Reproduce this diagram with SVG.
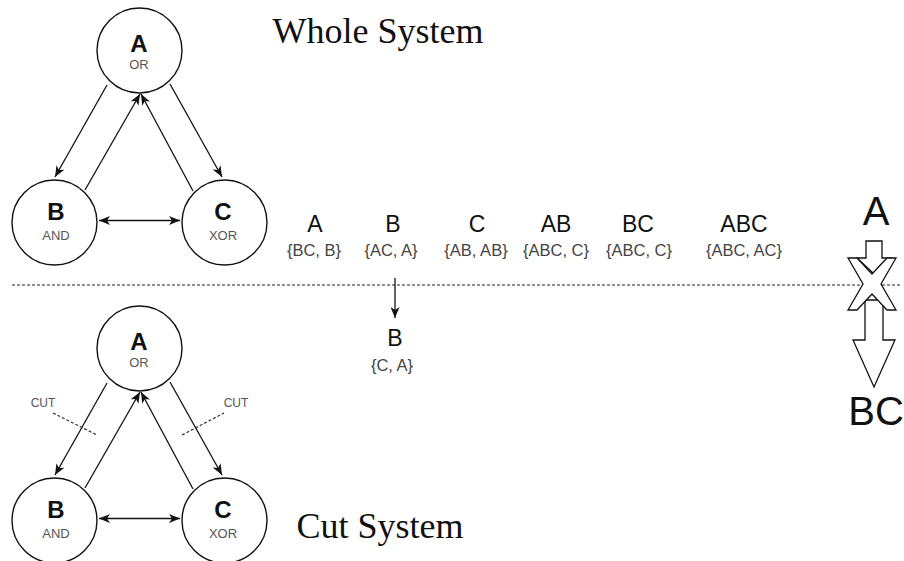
<svg xmlns="http://www.w3.org/2000/svg" width="904" height="561" viewBox="0 0 904 561">
  <style>
    .node { fill: #ffffff; stroke: #111111; stroke-width: 1.4; }
    .name { font-family: "Liberation Sans", Arial, sans-serif; font-weight: bold; font-size: 24px; fill: #111111; text-anchor: middle; }
    .gate { font-family: "Liberation Sans", Arial, sans-serif; font-size: 13px; fill: #555555; text-anchor: middle; }
    .edge { fill: none; stroke: #111111; stroke-width: 1.3; }
    .title { font-family: "Liberation Serif", "Times New Roman", serif; font-size: 36px; fill: #111111; text-anchor: middle; }
    .mech { font-family: "Liberation Sans", Arial, sans-serif; font-size: 23px; fill: #111111; text-anchor: middle; }
    .purview { font-family: "Liberation Sans", Arial, sans-serif; font-size: 16.5px; fill: #444444; text-anchor: middle; }
    .cutlbl { font-family: "Liberation Sans", Arial, sans-serif; font-size: 12px; fill: #555555; text-anchor: middle; }
    .cutline { fill: none; stroke: #333333; stroke-width: 1.2; stroke-dasharray: 3 2; }
    .divider { fill: none; stroke: #222222; stroke-width: 1.2; stroke-dasharray: 3 2; }
    .block { fill: #ffffff; stroke: #111111; stroke-width: 1.3; stroke-linejoin: miter; }
    .big { font-family: "Liberation Sans", Arial, sans-serif; font-size: 40px; fill: #111111; text-anchor: middle; }
  </style>
  <defs>
    <marker id="arrow" markerUnits="userSpaceOnUse" markerWidth="11" markerHeight="9" refX="11" refY="4.5" orient="auto-start-reverse">
      <path d="M0,0 L11,4.5 L0,9 L3,4.5 Z" fill="#111111"/>
    </marker>
  </defs>

  <rect width="904" height="561" fill="#ffffff"/>

  <!-- titles -->
  <text class="title" x="378" y="43">Whole System</text>
  <text class="title" x="380" y="538">Cut System</text>

  <!-- divider between the two systems -->
  <line class="divider" x1="12" y1="285" x2="900" y2="285"/>

  <!-- connectors -->
  <g id="connectors">
    <!-- whole system -->
    <line class="edge" x1="107" y1="85" x2="55" y2="177" marker-end="url(#arrow)"/>
    <line class="edge" x1="85" y1="190" x2="140" y2="94" marker-end="url(#arrow)"/>
    <line class="edge" x1="193" y1="191" x2="141" y2="94" marker-end="url(#arrow)"/>
    <line class="edge" x1="170" y1="84" x2="222" y2="177" marker-end="url(#arrow)"/>
    <line class="edge" x1="99" y1="220.5" x2="180" y2="220.5" marker-start="url(#arrow)" marker-end="url(#arrow)"/>
    <!-- cut system -->
    <line class="edge" x1="107" y1="383" x2="55" y2="475" marker-end="url(#arrow)"/>
    <line class="edge" x1="85" y1="488" x2="140" y2="392" marker-end="url(#arrow)"/>
    <line class="edge" x1="193" y1="489" x2="141" y2="392" marker-end="url(#arrow)"/>
    <line class="edge" x1="170" y1="382" x2="222" y2="475" marker-end="url(#arrow)"/>
    <line class="edge" x1="99" y1="518.5" x2="180" y2="518.5" marker-start="url(#arrow)" marker-end="url(#arrow)"/>
    <!-- mechanism B after the cut -->
    <line class="edge" x1="395" y1="278" x2="395" y2="318" marker-end="url(#arrow)"/>
  </g>

  <!-- whole system nodes -->
  <g id="whole-a">
    <circle class="node" cx="139.5" cy="50.5" r="42.5"/>
    <text class="name" x="139" y="52">A</text>
    <text class="gate" x="139" y="69">OR</text>
  </g>
  <g id="whole-b">
    <circle class="node" cx="54.5" cy="222.5" r="42.5"/>
    <text class="name" x="56" y="220">B</text>
    <text class="gate" x="56" y="240">AND</text>
  </g>
  <g id="whole-c">
    <circle class="node" cx="224.5" cy="222.5" r="42.5"/>
    <text class="name" x="223" y="220">C</text>
    <text class="gate" x="223" y="240">XOR</text>
  </g>

  <!-- cut system nodes -->
  <g id="cut-a">
    <circle class="node" cx="139.5" cy="348.5" r="42.5"/>
    <text class="name" x="139" y="350">A</text>
    <text class="gate" x="139" y="367">OR</text>
  </g>
  <g id="cut-b">
    <circle class="node" cx="54.5" cy="520.5" r="42.5"/>
    <text class="name" x="56" y="518">B</text>
    <text class="gate" x="56" y="538">AND</text>
  </g>
  <g id="cut-c">
    <circle class="node" cx="224.5" cy="520.5" r="42.5"/>
    <text class="name" x="223" y="518">C</text>
    <text class="gate" x="223" y="538">XOR</text>
  </g>

  <!-- cut markers -->
  <g id="cut-left">
    <line class="cutline" x1="53" y1="413" x2="97" y2="435"/>
    <text class="cutlbl" x="43" y="407">CUT</text>
  </g>
  <g id="cut-right">
    <line class="cutline" x1="182" y1="435" x2="224" y2="413"/>
    <text class="cutlbl" x="236" y="407">CUT</text>
  </g>

  <!-- mechanisms and their purviews -->
  <g id="mech-a">
    <text class="mech" x="315" y="232">A</text>
    <text class="purview" x="314" y="256">{BC, B}</text>
  </g>
  <g id="mech-b">
    <text class="mech" x="393" y="232">B</text>
    <text class="purview" x="391" y="256">{AC, A}</text>
  </g>
  <g id="mech-c">
    <text class="mech" x="477" y="232">C</text>
    <text class="purview" x="476" y="256">{AB, AB}</text>
  </g>
  <g id="mech-ab">
    <text class="mech" x="556" y="232">AB</text>
    <text class="purview" x="556" y="256">{ABC, C}</text>
  </g>
  <g id="mech-bc">
    <text class="mech" x="638" y="232">BC</text>
    <text class="purview" x="639" y="256">{ABC, C}</text>
  </g>
  <g id="mech-abc">
    <text class="mech" x="744" y="232">ABC</text>
    <text class="purview" x="744" y="256">{ABC, AC}</text>
  </g>
  <g id="mech-b-cut">
    <text class="mech" x="395" y="346">B</text>
    <text class="purview" x="392" y="371">{C, A}</text>
  </g>

  <!-- severed A to BC connection -->
  <g id="severed">
    <text class="big" x="876" y="225">A</text>
    <path class="block" d="M866,241 H882 V258 H891 L874,274 L857,258 H866 Z"/>
    <path class="block" d="M865,300 H883 V340 H895 L874,387 L853,340 H865 Z"/>
    <path class="block" d="M848,258 H857 L872,274 L887,258 H896 L881,284 L896,310 H887 L872,294 L857,310 H848 L863,284 Z"/>
    <text class="big" x="876" y="425">BC</text>
  </g>
</svg>
